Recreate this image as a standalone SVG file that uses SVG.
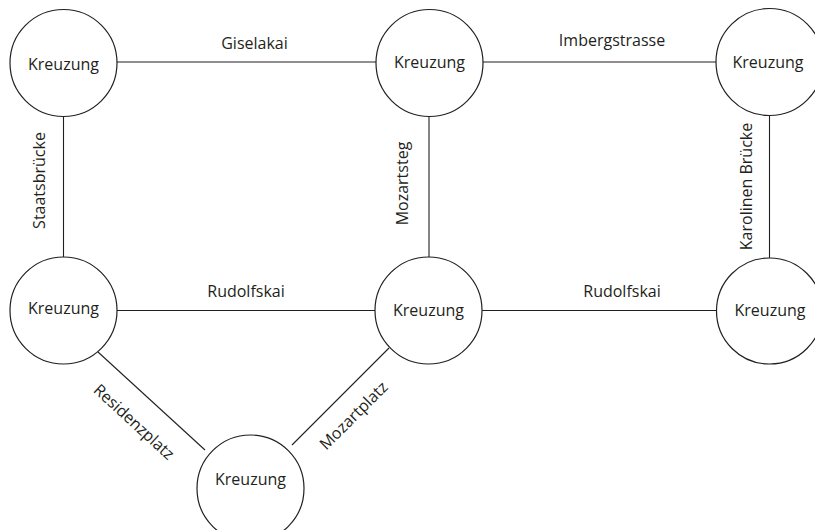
<svg xmlns="http://www.w3.org/2000/svg" width="815" height="530" viewBox="0 0 815 530">
  <style>
    .node circle { fill: #ffffff; stroke: #231f20; stroke-width: 1.2; }
    .node text { font-family: "Open Sans", "Noto Sans", sans-serif; font-size: 16px; fill: #231f20; text-anchor: middle; }
    #roads line { stroke: #231f20; stroke-width: 1.1; }
    .road-label { font-family: "Open Sans", "Noto Sans", sans-serif; font-size: 16px; fill: #231f20; text-anchor: middle; }
  </style>
  <rect width="815" height="530" fill="#ffffff"/>

  <!-- streets between intersections -->
  <g id="roads">
    <line x1="117" y1="62" x2="376" y2="62"/>
    <line x1="483" y1="62" x2="716" y2="62"/>
    <line x1="63.5" y1="116" x2="63.5" y2="257"/>
    <line x1="429" y1="116" x2="429" y2="257"/>
    <line x1="769.5" y1="116" x2="769.5" y2="258"/>
    <line x1="117" y1="310.5" x2="375" y2="310.5"/>
    <line x1="482" y1="310.5" x2="716" y2="310.5"/>
    <line x1="98" y1="352" x2="205" y2="450"/>
    <line x1="389" y1="348" x2="292" y2="445"/>
    <text class="road-label" x="254.5" y="49">Giselakai</text>
    <text class="road-label" x="612" y="46">Imbergstrasse</text>
    <text class="road-label" x="246" y="297">Rudolfskai</text>
    <text class="road-label" x="622" y="297">Rudolfskai</text>
    <text class="road-label" transform="translate(45,180.5) rotate(-90)">Staatsbrücke</text>
    <text class="road-label" transform="translate(408,183.5) rotate(-90)">Mozartsteg</text>
    <text class="road-label" transform="translate(752,186.5) rotate(-90)">Karolinen Brücke</text>
    <text class="road-label" transform="translate(130.3,426) rotate(42.5)">Residenzplatz</text>
    <text class="road-label" transform="translate(357.5,419.5) rotate(-45)">Mozartplatz</text>
  </g>

  <!-- intersections -->
  <g id="node-top-left" class="node">
    <circle cx="63.5" cy="63" r="53.5"/>
    <text x="63.5" y="70">Kreuzung</text>
  </g>
  <g id="node-top-middle" class="node">
    <circle cx="429.5" cy="63" r="53.5"/>
    <text x="429.5" y="68">Kreuzung</text>
  </g>
  <g id="node-top-right" class="node">
    <circle cx="769.5" cy="62" r="53.5"/>
    <text x="768" y="68">Kreuzung</text>
  </g>
  <g id="node-middle-left" class="node">
    <circle cx="63.5" cy="310.5" r="53.5"/>
    <text x="63.5" y="314">Kreuzung</text>
  </g>
  <g id="node-middle-center" class="node">
    <circle cx="428.5" cy="310.5" r="53.5"/>
    <text x="428.5" y="316">Kreuzung</text>
  </g>
  <g id="node-middle-right" class="node">
    <circle cx="769.5" cy="311" r="53"/>
    <text x="770" y="316">Kreuzung</text>
  </g>
  <g id="node-bottom" class="node">
    <circle cx="250.5" cy="488.5" r="53.5"/>
    <text x="250.5" y="485">Kreuzung</text>
  </g>
</svg>
